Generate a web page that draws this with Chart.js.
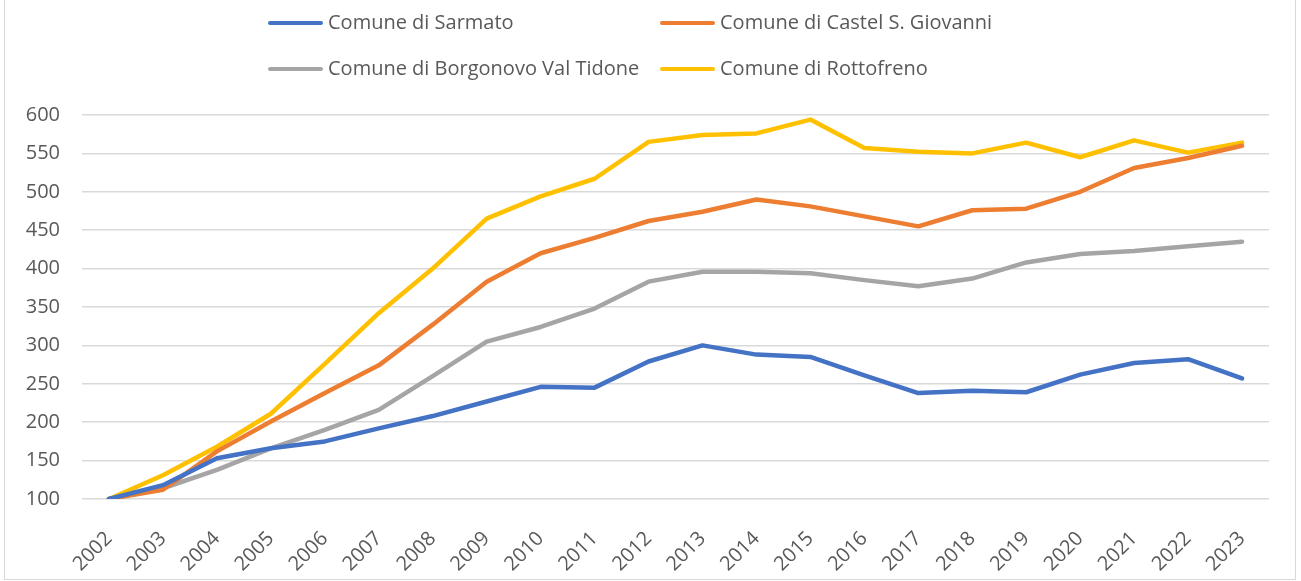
<!DOCTYPE html>
<html>
<head>
<meta charset="utf-8">
<script src="https://cdn.jsdelivr.net/npm/chart.js@4"></script>
<style>
  html, body { margin: 0; padding: 0; background: #fff; }
  #wrap { position: relative; width: 1301px; height: 581px; overflow: hidden; }
  #frame { position: absolute; left: 4px; top: -2px; width: 1292px; height: 582px; border: 1px solid #d9d9d9; box-sizing: border-box; pointer-events: none; }
  canvas { position: absolute; left: 0; top: 0; }
  .lg { position: absolute; font-family: "Open Sans", sans-serif; font-size: 20px; color: #595959; white-space: nowrap; line-height: 24px; }
  .lg span.mk { display: inline-block; width: 55px; height: 4px; border-radius: 2px; vertical-align: middle; margin-right: 5px; position: relative; top: -1px; }
</style>
</head>
<body>
<div id="wrap">
  <canvas id="c" width="1301" height="581"></canvas>
  <div id="legend"></div>
  <div id="frame"></div>
</div>
<script>
const years = ["2002","2003","2004","2005","2006","2007","2008","2009","2010","2011","2012","2013","2014","2015","2016","2017","2018","2019","2020","2021","2022","2023"];
const seriesNames = ["Comune di Sarmato","Comune di Castel S. Giovanni","Comune di Borgonovo Val Tidone","Comune di Rottofreno"];
const sarmato    = [100,118,153,166,175,192,208,227,246,245,279,300,288,285,261,238,241,239,262,277,282,257];
const castelSG   = [100,112,162,201,238,274,327,383,420,440,462,474,490,481,468,455,476,478,500,531,544,560];
const borgonovo  = [100,114,138,166,190,216,260,305,324,348,383,396,396,394,385,377,387,408,419,423,429,435];
const rottofreno = [100,131,168,211,276,342,400,465,494,517,565,574,576,594,557,552,550,564,545,567,551,564];
const colors = ["#4472C4","#ED7D31","#A5A5A5","#FFC000"];
const yTicks = [100,150,200,250,300,350,400,450,500,550,600];

const allData = [sarmato, castelSG, borgonovo, rottofreno];

// HTML legend laid out in two aligned columns
const legendPos = [[268,10],[660,10],[268,56],[660,56]];
const legendEl = document.getElementById('legend');
seriesNames.forEach((n,i)=>{
  const d = document.createElement('div');
  d.className = 'lg';
  d.style.left = legendPos[i][0] + 'px';
  d.style.top = legendPos[i][1] + 'px';
  d.innerHTML = '<span class="mk" style="background:'+colors[i]+'"></span>' + n;
  legendEl.appendChild(d);
});

new Chart(document.getElementById('c'), {
  type: 'line',
  data: {
    labels: years,
    datasets: seriesNames.map((n,i)=>({
      label: n,
      data: allData[i],
      borderColor: colors[i],
      backgroundColor: colors[i],
      borderWidth: 4.5,
      pointRadius: 0,
      tension: 0,
      fill: false,
      borderCapStyle: 'round',
      borderJoinStyle: 'round'
    }))
  },
  options: {
    responsive: false,
    animation: false,
    layout: { padding: { top: 115, left: 22, right: 32, bottom: 0 } },
    plugins: { legend: { display: false }, tooltip: { enabled: false } },
    scales: {
      x: {
        offset: true,
        grid: { display: false },
        border: { display: false },
        afterFit: (ax) => { ax.height = 82; },
        ticks: {
          color: '#595959',
          font: { family: 'Open Sans', size: 20 },
          minRotation: 45, maxRotation: 45,
          padding: 20
        }
      },
      y: {
        min: 100, max: 600,
        afterBuildTicks: (ax) => { ax.ticks = yTicks.map(v=>({value:v})); },
        afterFit: (ax) => { ax.width = 60; },
        grid: { color: '#d9d9d9', lineWidth: 1.5, drawTicks: false },
        border: { display: false },
        ticks: {
          color: '#595959',
          font: { family: 'Open Sans', size: 20 },
          padding: 22
        }
      }
    }
  }
});
</script>
</body>
</html>
